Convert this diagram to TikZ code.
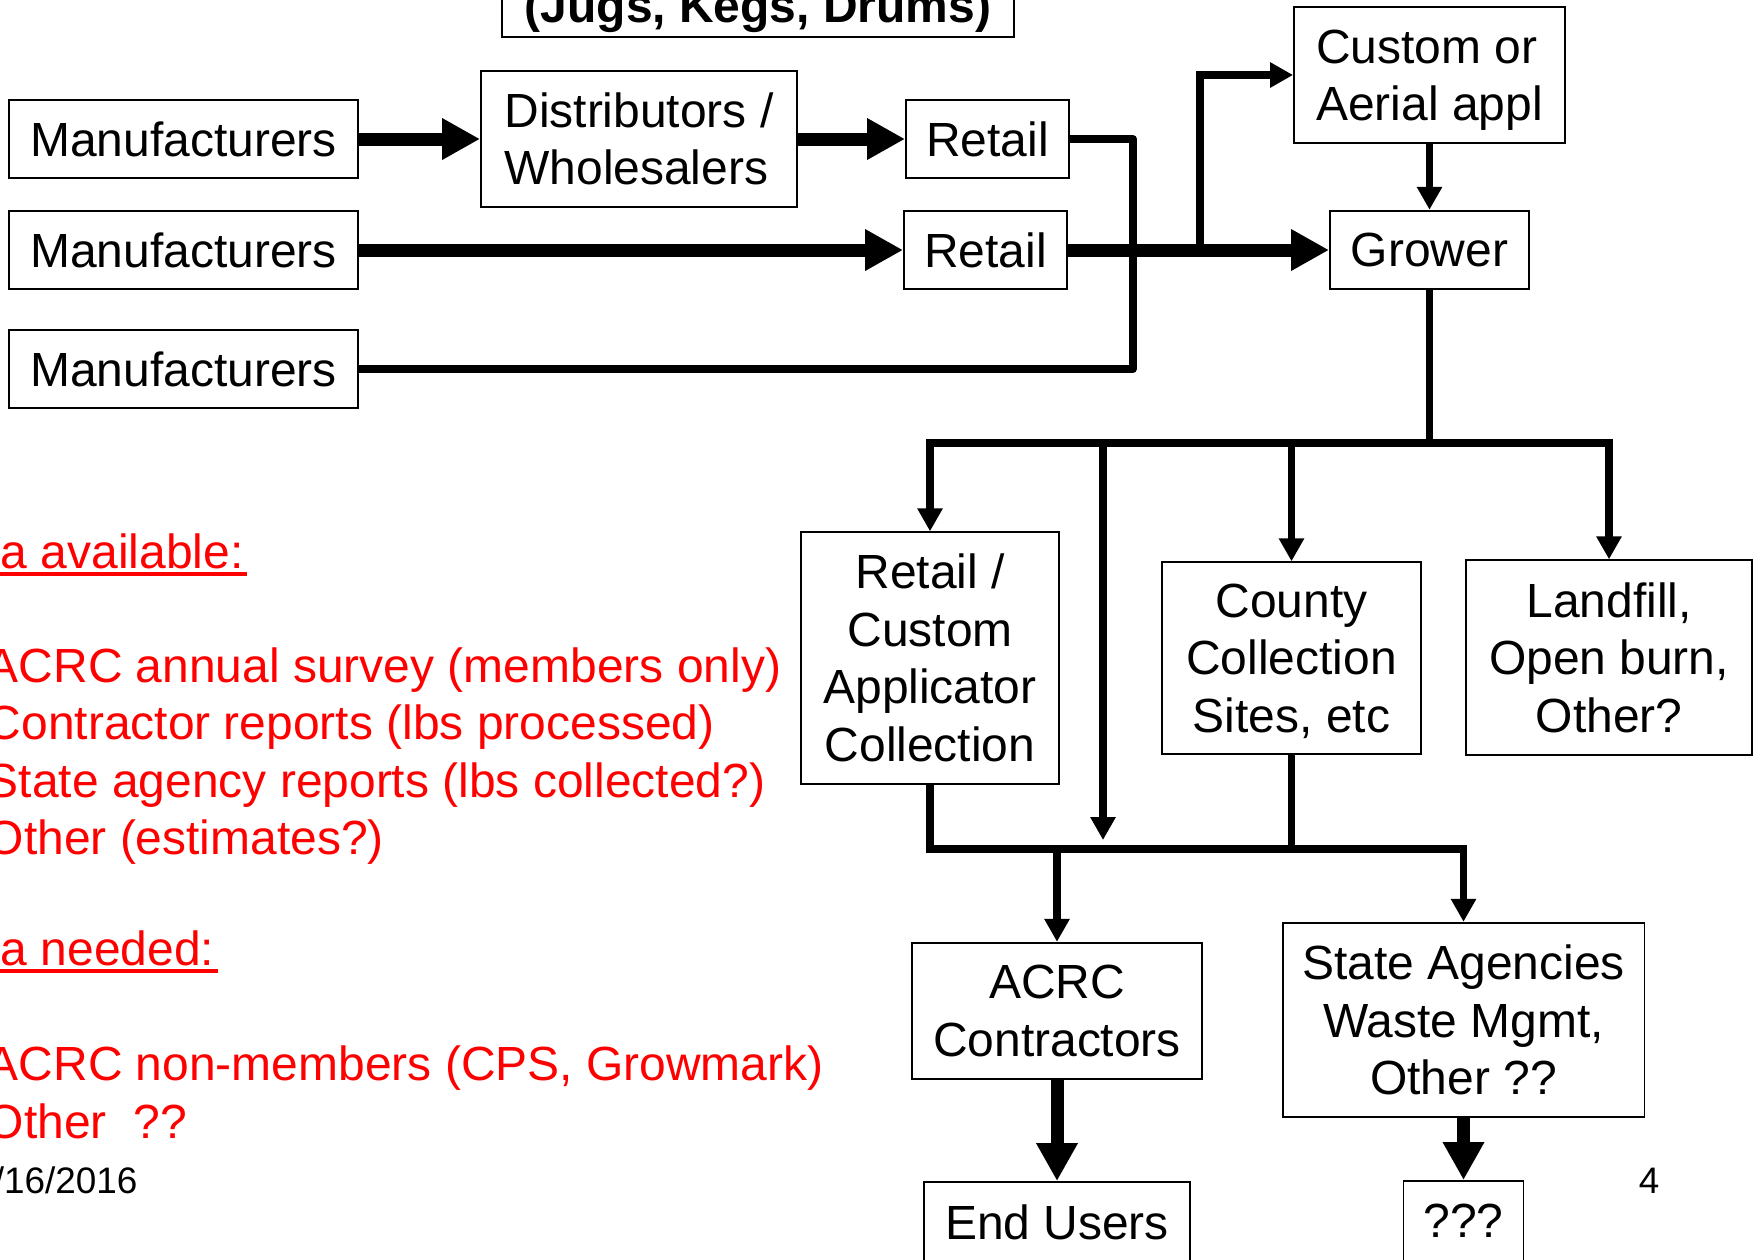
\documentclass[tikz,border=0pt]{standalone}
\usepackage{fontspec}
\setmainfont{Liberation Sans}
\usepackage{tikz}
\usetikzlibrary{arrows.meta}
\newcommand\boxfont{\fontsize{27.3}{32.7}\selectfont}
\newcommand\smallfont{\fontsize{21}{25}\selectfont}

\begin{document}
\begin{tikzpicture}[x=0.02cm, y=-0.02cm, line width=4.3pt, >={Triangle[length=13.1pt,width=13.7pt]},
   flow/.style={line width=7.4pt, -{Triangle[length=21.6pt,width=22.2pt]}}]
   \useasboundingbox (0,0) rectangle (1754,1259);
   \clip (0,0) rectangle (1754,1259);
   \tikzstyle{main}=[rectangle, draw=black, line width=1.1pt, inner sep=0pt, align=center, font=\boxfont]
   \tikzstyle{note}=[anchor=base west, inner sep=0pt, text=red, font=\boxfont]
   \node[main, anchor=base, minimum width=10.23cm, text depth=0.2cm, inner ysep=2.3pt, font=\boxfont\bfseries] (title) at (758,22.7) {(Jugs, Kegs, Drums)};
   \foreach \y/\i in {139/1, 250/2, 369/3}
      \node[main, minimum width=6.98cm, minimum height=1.55cm] (mfr\i) at (183.5,\y) {Manufacturers};
   \node[main, align=left, minimum width=6.32cm, minimum height=2.71cm] (dist) at (639,139) {Distributors /\\Wholesalers};
   \node[main, minimum width=3.26cm, minimum height=1.56cm] (retail1) at (987.5,139) {Retail};
   \node[main, minimum width=3.26cm, minimum height=1.56cm] (retail2) at (985.5,250) {Retail};
   \node[main, align=left, text depth=0pt, minimum width=5.42cm, minimum height=2.73cm] (custom) at (1429.5,75) {Custom or\\Aerial appl};
   \node[main, minimum width=3.98cm, minimum height=1.57cm] (grower) at (1429.5,250) {Grower};
   \node[main, minimum width=5.16cm, minimum height=5.03cm] (rcac) at (930,658) {Retail /\\Custom\\Applicator\\Collection};
   \node[main, text depth=0pt, minimum width=5.18cm, minimum height=3.83cm] (county) at (1291.5,658) {County\\Collection\\Sites, etc};
   \node[main, minimum width=5.72cm, minimum height=3.89cm] (landfill) at (1609,657.5) {Landfill,\\Open burn,\\Other?};
   \node[main, minimum width=5.8cm, minimum height=2.73cm] (acrc) at (1057,1011) {ACRC\\Contractors};
   \node[main, minimum width=7.24cm, minimum height=3.89cm] (state) at (1463.5,1020) {State Agencies\\Waste Mgmt,\\Other ??};
   \node[main, minimum width=5.32cm, minimum height=1.6cm] (endusers) at (1057,1222) {End Users};
   \node[main, minimum width=2.4cm, minimum height=1.6cm] (qqq) at (1463.5,1221) {???};
   \draw[flow] (mfr1) -- (dist);
   \draw[flow] (dist) -- (retail1);
   \draw[flow] (mfr2) -- (retail2);
   \draw[flow] (retail2) -- (grower);
   \coordinate (turn) at (1133,369);
   \draw[line join=round] (retail1.east) -| (turn) -- (mfr3.east);
   \coordinate (split) at (1200,250);
   \draw[->] (split) |- (custom.west);
   \draw[->] (custom) -- (grower);
   \coordinate (hub) at (1429.5,443);
   \draw (grower) -- (hub);
   \draw[->] (hub) -| (rcac.north);
   \draw[->] (hub) -| (county.north);
   \draw[->] (hub) -| (landfill.north);
   \coordinate (sink) at (1103,840);
   \draw[->] (hub) -| (sink);
   \coordinate (pool) at (1291.5,849);
   \draw (rcac.south) |- (pool);
   \draw (county.south) -- (pool);
   \draw[->] (pool) -| (state.north);
   \draw[->] (pool -| acrc.north) -- (acrc.north);
   \draw[flow] (acrc) -- (endusers);
   \draw[flow] (state) -- (qqq);
   \node[note] (avail) at (-3,568) {a available:};
   \draw[red, line width=2.4pt] ([yshift=-3.4pt]avail.base west) -- ([yshift=-3.4pt]avail.base east);
   \foreach \y/\txt in {682/{ACRC annual survey (members only)}, 739/{Contractor reports (lbs processed)}, 797/{State agency reports (lbs collected?)}, 854/{Other (estimates?)}}
      \node[note] (have\y) at (-17,\y) {\txt};
   \node[note] (need) at (-3,965) {a needed:};
   \draw[red, line width=2.4pt] ([yshift=-3.4pt]need.base west) -- ([yshift=-3.4pt]need.base east);
   \foreach \y/\txt in {1080/{ACRC non-members (CPS, Growmark)}, 1138/{Other\ \ ??}}
      \node[note] (want\y) at (-17,\y) {\txt};
   \node[anchor=base west, inner sep=0pt, font=\smallfont] (date) at (-10,1193) {/16/2016};
   \node[anchor=base, inner sep=0pt, font=\smallfont] (page) at (1649,1193) {4};
\end{tikzpicture}
\end{document}
